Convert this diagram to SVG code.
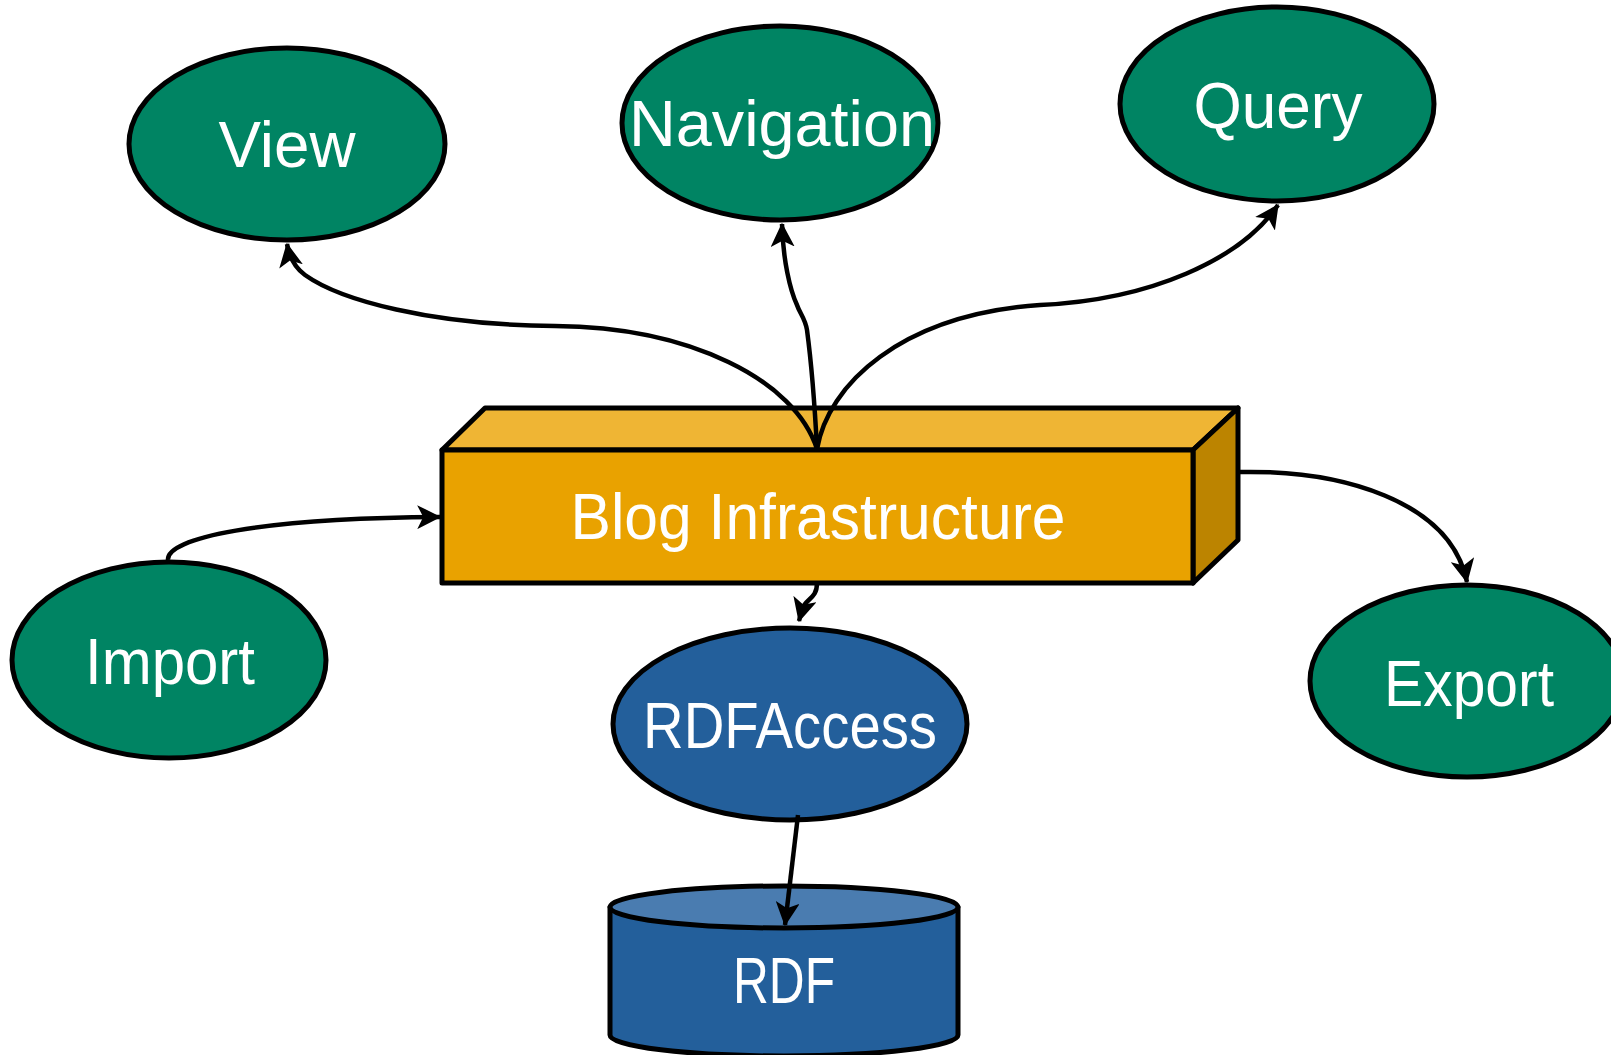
<svg xmlns="http://www.w3.org/2000/svg" width="1611" height="1055" viewBox="0 0 1611 1055">
<style>
.n{stroke:#000;stroke-width:5;stroke-linejoin:round}
.g{fill:#008463}
.b{fill:#235F9B}
.t{font-family:"Liberation Sans","DejaVu Sans",sans-serif;font-size:64px;fill:#fff;text-anchor:middle}
.c{fill:none;stroke:#000;stroke-width:4.5}
</style>
<defs>
<marker id="ah" markerUnits="userSpaceOnUse" markerWidth="24" markerHeight="24" refX="19" refY="10" orient="auto" viewBox="0 0 20 20">
<path d="M0,0 L20,10 L0,20 L5,10 Z" fill="#000"/>
</marker>
</defs>
<rect width="1611" height="1055" fill="#fff"/>
<g id="box">
<polygon class="n" fill="#EFB534" points="442,450 485,408 1238,408 1193,450"/>
<polygon class="n" fill="#BC8400" points="1193,450 1238,408 1238,540 1193,583"/>
<rect class="n" fill="#E9A200" x="442" y="450" width="751" height="133"/>
<text class="t" x="818" y="539" textLength="495" lengthAdjust="spacingAndGlyphs">Blog Infrastructure</text>
</g>
<g id="view">
<ellipse class="n g" cx="287" cy="144" rx="158" ry="96"/>
<text class="t" x="287" y="167" textLength="137" lengthAdjust="spacingAndGlyphs">View</text>
</g>
<g id="navigation">
<ellipse class="n g" cx="780" cy="123" rx="158" ry="97"/>
<text class="t" x="782" y="146" textLength="306" lengthAdjust="spacingAndGlyphs">Navigation</text>
</g>
<g id="query">
<ellipse class="n g" cx="1277" cy="104" rx="157" ry="97"/>
<text class="t" x="1278" y="128" textLength="169" lengthAdjust="spacingAndGlyphs">Query</text>
</g>
<g id="import">
<ellipse class="n g" cx="169" cy="660" rx="157" ry="98"/>
<text class="t" x="170" y="684" textLength="170" lengthAdjust="spacingAndGlyphs">Import</text>
</g>
<g id="export">
<ellipse class="n g" cx="1467" cy="681" rx="157" ry="96"/>
<text class="t" x="1469" y="706" textLength="170" lengthAdjust="spacingAndGlyphs">Export</text>
</g>
<g id="rdfaccess">
<ellipse class="n b" cx="790" cy="724" rx="177" ry="96"/>
<text class="t" x="790" y="748" textLength="294" lengthAdjust="spacingAndGlyphs">RDFAccess</text>
</g>
<g id="rdf">
<path class="n b" d="M610,907 L610,1035 A174,21 0 0 0 958,1035 L958,907 Z"/>
<ellipse class="n" fill="#4A7CB0" cx="784" cy="907" rx="174" ry="21"/>
<text class="t" x="784" y="1003" textLength="102" lengthAdjust="spacingAndGlyphs">RDF</text>
</g>
<g id="connectors">
<path class="c" marker-end="url(#ah)" d="M817,449 C795,380 690,327 555,326 C430,325 340,300 305,275 C294,267 289,255 287,244"/>
<path class="c" marker-end="url(#ah)" d="M817,449 C815,410 811,360 807,330 C805,318 800,314 797,305 C790,290 783,260 782,224"/>
<path class="c" marker-end="url(#ah)" d="M817,449 C828,385 900,315 1040,305 C1150,300 1240,260 1278,205"/>
<path class="c" marker-end="url(#ah)" d="M1240,472 C1340,470 1450,500 1467,582"/>
<path class="c" marker-end="url(#ah)" d="M168,560 C166,538 260,518 440,517"/>
<path class="c" marker-end="url(#ah)" d="M817,583 C817,600 805,598 802,610 L799,621"/>
<path class="c" marker-end="url(#ah)" d="M798,815 L785,925"/>
</g>
</svg>
